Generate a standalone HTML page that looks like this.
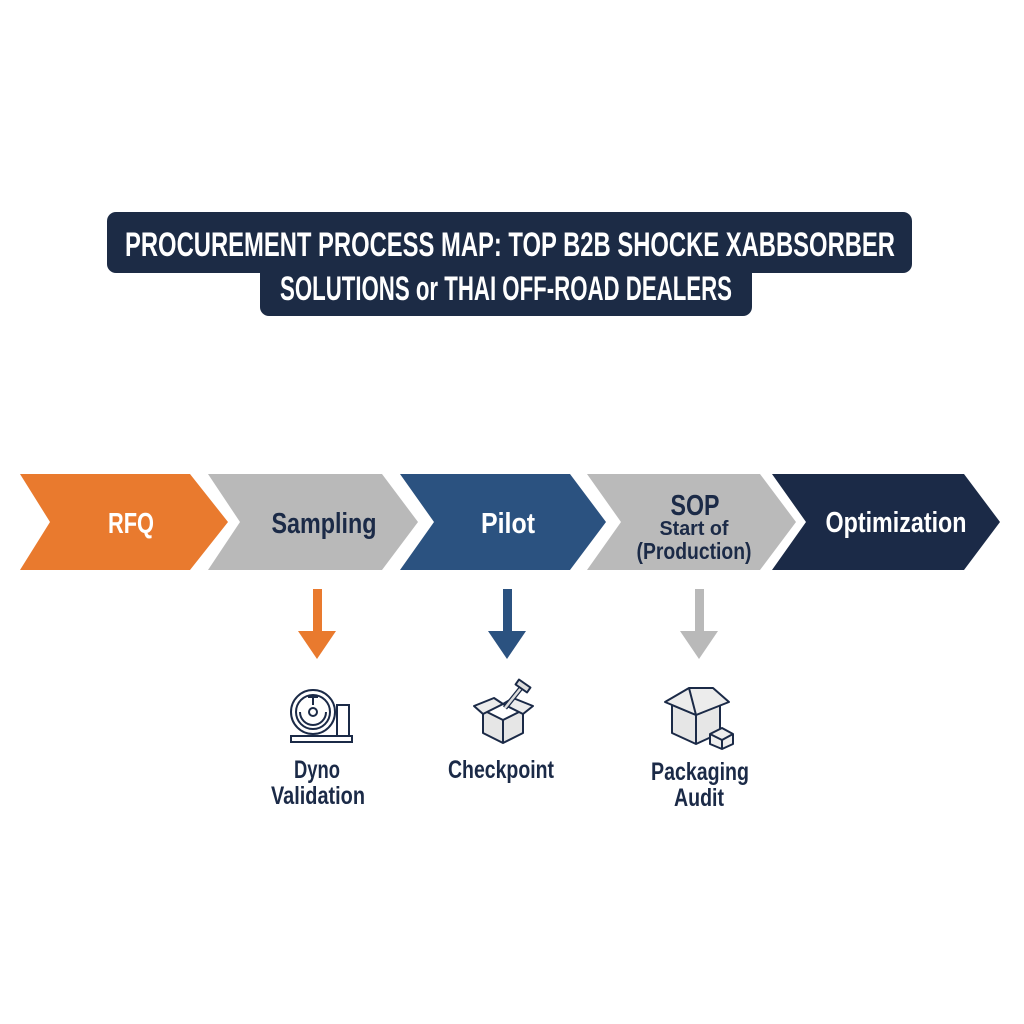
<!DOCTYPE html>
<html><head><meta charset="utf-8"><style>
html,body{margin:0;padding:0;background:#fff;}
svg{display:block;}
text{font-family:"Liberation Sans Narrow","Liberation Sans",sans-serif;font-weight:bold;}
</style></head><body>
<svg width="1024" height="1024" viewBox="0 0 1024 1024" xmlns="http://www.w3.org/2000/svg">
<rect width="1024" height="1024" fill="#fff"/>
<!-- title -->
<rect x="107" y="212" width="805" height="61" rx="9" fill="#1c2b45"/>
<rect x="260" y="250" width="492" height="66" rx="9" fill="#1c2b45"/>
<text x="510" y="256" text-anchor="middle" font-size="34" fill="#fff" textLength="770" lengthAdjust="spacingAndGlyphs">PROCUREMENT PROCESS MAP: TOP B2B SHOCKE XABBSORBER</text>
<text x="506" y="300" text-anchor="middle" font-size="34" fill="#fff" textLength="452" lengthAdjust="spacingAndGlyphs">SOLUTIONS or THAI OFF-ROAD DEALERS</text>
<!-- chevrons -->
<polygon points="20,474 190,474 228,522 190,570 20,570 50,522" fill="#e97a2e"/>
<polygon points="208,474 382,474 418,522 382,570 208,570 240,522" fill="#b9b9b9"/>
<polygon points="400,474 570,474 606,522 570,570 400,570 434,522" fill="#2b5280"/>
<polygon points="587,474 760,474 796,522 760,570 587,570 621,522" fill="#bababa"/>
<polygon points="772,474 964,474 1000,522 964,570 772,570 806,522" fill="#1b2a47"/>
<g font-size="29">
<text x="131" y="533" text-anchor="middle" fill="#fff" textLength="46" lengthAdjust="spacingAndGlyphs">RFQ</text>
<text x="324" y="533" text-anchor="middle" fill="#1b2a47" textLength="105" lengthAdjust="spacingAndGlyphs">Sampling</text>
<text x="508" y="533" text-anchor="middle" fill="#fff" textLength="54" lengthAdjust="spacingAndGlyphs">Pilot</text>
<text x="695" y="515" text-anchor="middle" fill="#1b2a47" textLength="49" lengthAdjust="spacingAndGlyphs">SOP</text>
<text x="896" y="532" text-anchor="middle" fill="#fff" textLength="141" lengthAdjust="spacingAndGlyphs">Optimization</text>
</g>
<text x="694" y="535" text-anchor="middle" font-size="20" fill="#1b2a47" textLength="69" lengthAdjust="spacingAndGlyphs">Start of</text>
<text x="694" y="559" text-anchor="middle" font-size="23" fill="#1b2a47" textLength="115" lengthAdjust="spacingAndGlyphs">(Production)</text>
<!-- arrows -->
<rect x="313" y="589" width="9" height="44" fill="#e97a2e"/>
<polygon points="298,631 336,631 317,659" fill="#e97a2e"/>
<rect x="503" y="589" width="9" height="44" fill="#2b5280"/>
<polygon points="488,631 526,631 507,659" fill="#2b5280"/>
<rect x="695" y="589" width="9" height="44" fill="#b9b9b9"/>
<polygon points="680,631 718,631 699,659" fill="#b9b9b9"/>
<!-- dyno icon -->
<g fill="none" stroke="#1b2a47" stroke-width="2">
<rect x="337" y="705" width="12" height="33" fill="#fff"/>
<circle cx="313" cy="712" r="22" fill="#fff"/>
<circle cx="313" cy="712" r="17"/>
<circle cx="313" cy="712" r="4"/>
<path d="M300 712 a13 13 0 0 0 26 0 M308 697 h10 M313 697 v8"/>
<rect x="291" y="736" width="61" height="6" fill="#fff"/>
</g>
<!-- checkpoint icon -->
<g stroke="#1b2a47" stroke-width="2" stroke-linejoin="round">
<polygon points="483,710 503,720 523,710 523,733 503,743 483,733" fill="#e6e6e6"/>
<polygon points="474,706 494,698 503,704 483,714" fill="#ececec"/>
<polygon points="503,704 513,698 533,706 523,714" fill="#ececec"/>
<path d="M503 720 v23" fill="none"/>
<path d="M505 708 L521 688" stroke-width="5" stroke="#1b2a47"/>
<path d="M505 708 L521 688" stroke-width="2.5" stroke="#ddd"/>
<rect x="516" y="683" width="14" height="6" transform="rotate(35 523 686)" fill="#ddd"/>
</g>
<!-- packaging icon -->
<g stroke="#1b2a47" stroke-width="2" stroke-linejoin="round">
<polygon points="672,705 696,715 720,705 720,733 696,744 672,733" fill="#e6e6e6"/>
<polygon points="665,702 689,688 713,688 729,702 696,715" fill="#ececec"/>
<path d="M696 715 v29 M689 688 L696 715" fill="none"/>
<polygon points="710,734 722,728 733,734 733,744 722,749 710,744" fill="#eee"/>
<path d="M710 734 L722 740 L733 734 M722 740 v9" fill="none"/>
</g>
<!-- labels -->
<g font-size="25" fill="#1b2a47" text-anchor="middle">
<text x="317" y="778" textLength="46" lengthAdjust="spacingAndGlyphs">Dyno</text>
<text x="318" y="804" textLength="94" lengthAdjust="spacingAndGlyphs">Validation</text>
<text x="501" y="778" textLength="106" lengthAdjust="spacingAndGlyphs">Checkpoint</text>
<text x="700" y="780" textLength="98" lengthAdjust="spacingAndGlyphs">Packaging</text>
<text x="699" y="806" textLength="50" lengthAdjust="spacingAndGlyphs">Audit</text>
</g>
</svg>
</body></html>
